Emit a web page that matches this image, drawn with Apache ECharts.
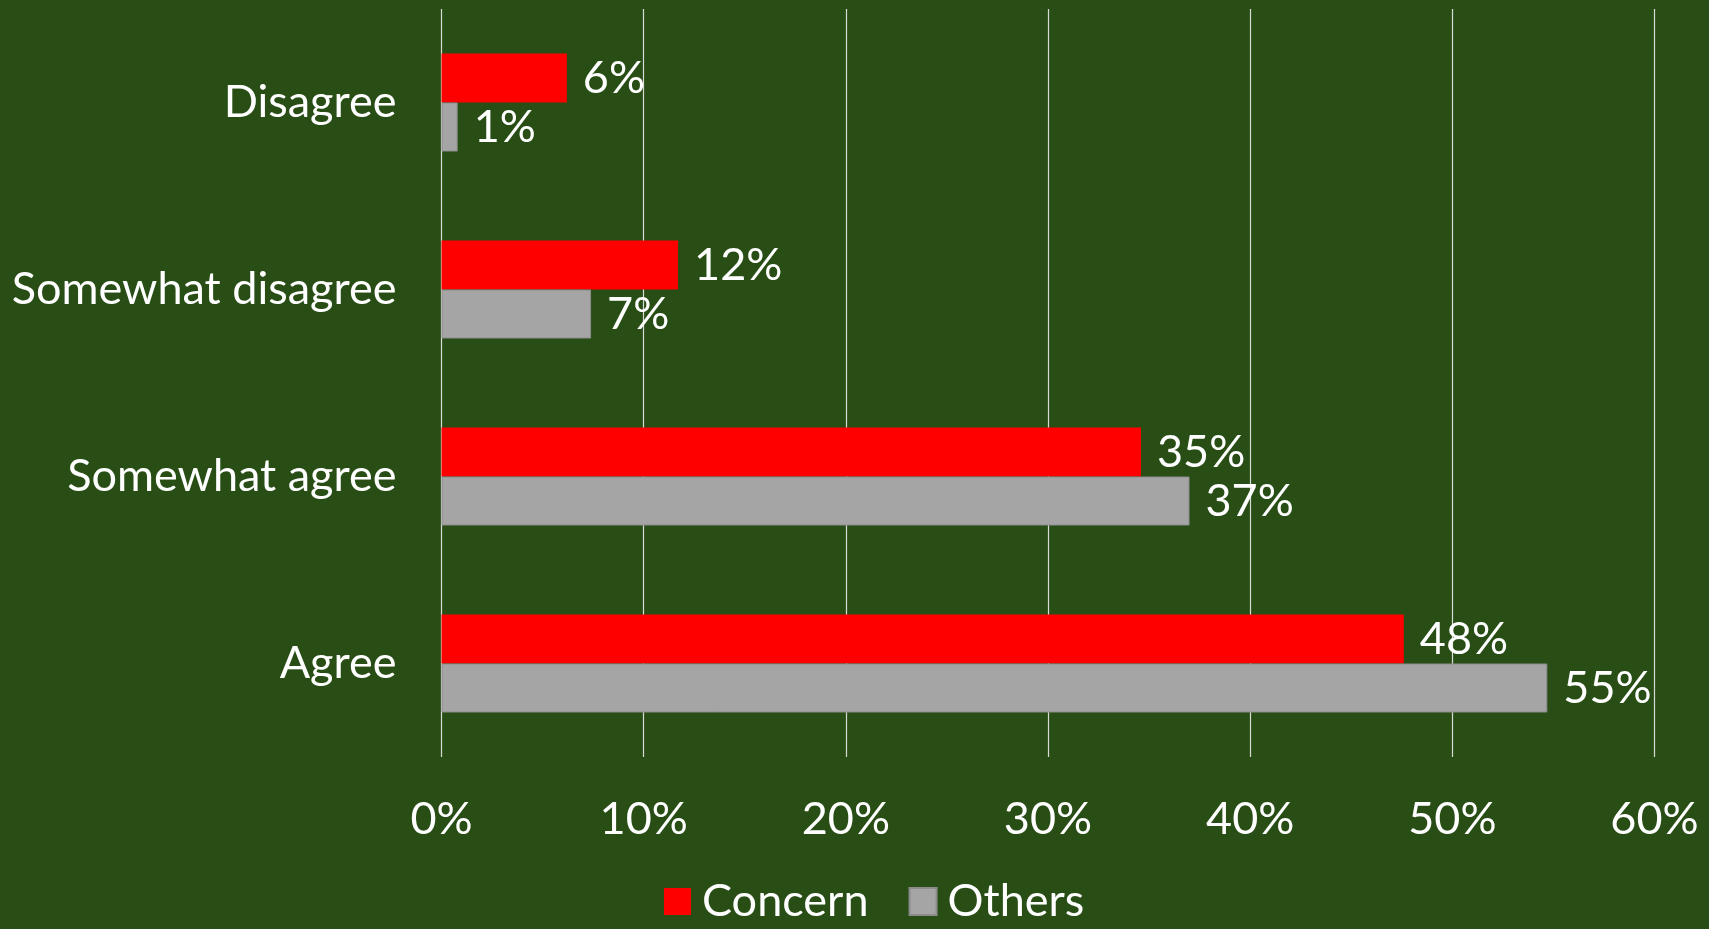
<!DOCTYPE html>
<html>
<head>
<meta charset="utf-8">
<title>Concern vs Others</title>
<script src="https://cdn.jsdelivr.net/npm/echarts@6/dist/echarts.min.js"></script>
<style>
  html, body { margin: 0; padding: 0; background: #284E16; }
  #chart { width: 1709px; height: 929px; }
</style>
</head>
<body>
<div id="chart"></div>
<script>
// Response categories, top to bottom
const categories = ['Disagree', 'Somewhat disagree', 'Somewhat agree', 'Agree'];
// Share of respondents (%) per group
const concernValues = [6.2, 11.7, 34.6, 47.6];
const othersValues = [0.8, 7.4, 37.0, 54.7];
// Value axis ticks (%)
const xTicks = [0, 10, 20, 30, 40, 50, 60];

const FONT = 'Lato';
const FS = 45;

const chart = echarts.init(document.getElementById('chart'), null, { renderer: 'canvas' });

const labelOpt = {
  show: true,
  position: 'right',
  distance: 16,
  color: '#ffffff',
  fontFamily: FONT,
  fontSize: FS,
  formatter: p => Math.round(p.value) + '%'
};

chart.setOption({
  backgroundColor: '#284E16',
  animation: false,
  grid: { left: 441.5, right: 54.5, top: 9, bottom: 172, containLabel: false },
  legend: {
    data: ['Concern', 'Others'],
    left: 659,
    top: 874,
    icon: 'rect',
    itemWidth: 27,
    itemHeight: 27,
    itemGap: 40,
    textStyle: { color: '#ffffff', fontFamily: FONT, fontSize: FS, padding: [0, 0, 0, 6] }
  },
  xAxis: {
    type: 'value',
    min: xTicks[0],
    max: xTicks[xTicks.length - 1],
    interval: 10,
    axisLine: { show: false },
    axisTick: { show: false },
    splitLine: { show: true, lineStyle: { color: '#D9D9D9', width: 1.2 } },
    axisLabel: {
      color: '#ffffff',
      fontFamily: FONT,
      fontSize: FS,
      margin: 40,
      formatter: v => v + '%'
    }
  },
  yAxis: {
    type: 'category',
    inverse: true,
    data: categories,
    axisLine: { show: false },
    axisTick: { show: false },
    axisLabel: { color: '#ffffff', fontFamily: FONT, fontSize: FS, margin: 45 }
  },
  series: [
    {
      name: 'Concern',
      type: 'bar',
      data: concernValues,
      barWidth: 49,
      barGap: '0%',
      itemStyle: { color: '#FF0000' },
      label: labelOpt
    },
    {
      name: 'Others',
      type: 'bar',
      data: othersValues,
      barWidth: 49,
      barGap: '0%',
      itemStyle: { color: '#A5A5A5', borderColor: '#8C8C8C', borderWidth: 1 },
      label: labelOpt
    }
  ]
});
</script>
</body>
</html>
